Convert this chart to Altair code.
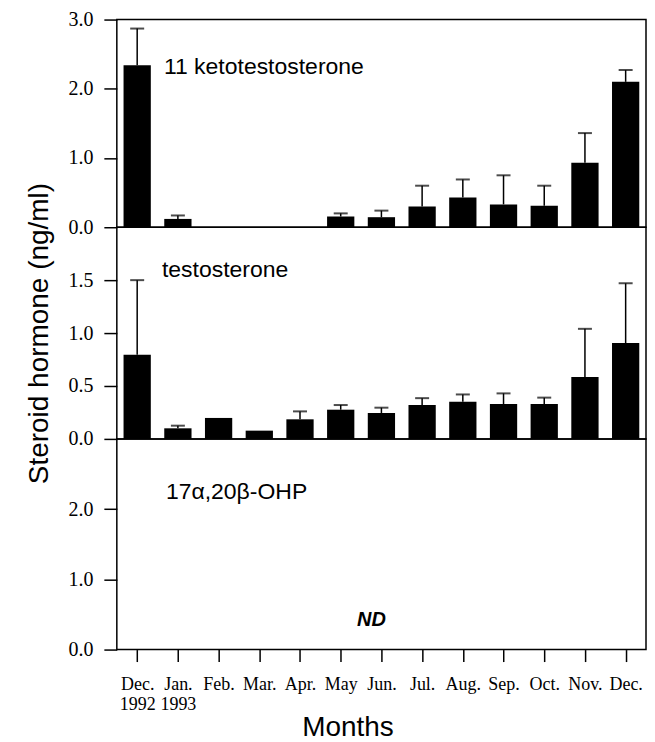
import altair as alt
import pandas as pd

months = ["Dec. 1992", "Jan. 1993", "Feb.", "Mar.", "Apr.", "May", "Jun.",
          "Jul.", "Aug.", "Sep.", "Oct.", "Nov.", "Dec."]

kt_mean = [2.34, 0.12, 0.0, 0.0, 0.0, 0.155, 0.145, 0.30, 0.43, 0.33, 0.31, 0.93, 2.10]
kt_upper = [2.87, 0.17, None, None, None, 0.20, 0.24, 0.60, 0.69, 0.75, 0.60, 1.36, 2.27]

t_mean = [0.795, 0.10, 0.198, 0.078, 0.185, 0.276, 0.245, 0.32, 0.35, 0.33, 0.33, 0.585, 0.905]
t_upper = [1.50, 0.125, None, None, 0.26, 0.32, 0.295, 0.385, 0.42, 0.43, 0.39, 1.04, 1.47]

panel_titles = ["11 ketotestosterone", "testosterone", "17\u03b1,20\u03b2-OHP"]
panel_title_y = [2.22, 1.53, 2.15]
panel_title_month = ["Jan. 1993", "Jan. 1993", "Jan. 1993"]
panel_title_dx = [-14, -16, -12]

y_domains = [[0, 3.0], [0, 2.0], [0, 3.0]]
y_ticks = [[0, 1.0, 2.0, 3.0], [0, 0.5, 1.0, 1.5], [0, 1.0, 2.0]]
heights = [208, 212, 211]

nd_label = "ND"
nd_month = "Jun."
nd_y = 0.34

W = 530
SANS = "Liberation Sans"
SERIF = "Liberation Serif"


def xenc(show_axis):
    scale = alt.Scale(domain=months, paddingInner=0.33, paddingOuter=0.165)
    if show_axis:
        axis = alt.Axis(title="Months", labelAngle=0, domain=False,
                        ticks=True, tickSize=12, tickColor="black", tickWidth=1.5,
                        labelFont=SERIF, labelFontSize=18, labelColor="black",
                        labelPadding=14, labelExpr="split(datum.label, ' ')",
                        labelLineHeight=20,
                        titleFont=SANS, titleFontSize=28, titleFontWeight="normal",
                        titleColor="black", titlePadding=0, titleX=231)
        return alt.X("month:N", scale=scale, axis=axis, sort=months)
    return alt.X("month:N", scale=scale, axis=None, sort=months)


def yaxis(i, title):
    kw = dict(values=y_ticks[i], format=".1f", domain=False, grid=False,
              tickSize=13, tickColor="black", tickWidth=1.5,
              labelFont=SERIF, labelFontSize=20, labelColor="black", labelPadding=11)
    if title:
        kw.update(title="Steroid hormone (ng/ml)", titleFont=SANS, titleFontSize=28,
                  titleFontWeight="normal", titleColor="black", titlePadding=14)
    else:
        kw.update(title=None)
    return alt.Axis(**kw)


def panel(i, mean=None, upper=None):
    ysc = alt.Scale(domain=y_domains[i], nice=False)
    layers = []
    if mean is not None:
        df = pd.DataFrame({"month": months, "mean": mean, "upper": upper})
        base = alt.Chart(df)
        bars = base.mark_bar(color="black").encode(
            x=xenc(i == 2),
            y=alt.Y("mean:Q", scale=ysc, axis=yaxis(i, i == 1)),
        )
        err_df = df.dropna(subset=["upper"])
        stem = alt.Chart(err_df).mark_rule(color="black", strokeWidth=1.5).encode(
            x=xenc(i == 2), y=alt.Y("mean:Q", scale=ysc), y2="upper:Q")
        cap = alt.Chart(err_df).mark_tick(color="black", thickness=2, size=14).encode(
            x=xenc(i == 2), y=alt.Y("upper:Q", scale=ysc))
        layers += [bars, stem, cap]
    lab_df = pd.DataFrame({"month": [panel_title_month[i]], "v": [panel_title_y[i]],
                           "t": [panel_titles[i]]})
    lab = alt.Chart(lab_df).mark_text(align="left", baseline="alphabetic", font=SANS,
                                      fontSize=23, color="black",
                                      dx=panel_title_dx[i]).encode(
        x=xenc(i == 2),
        y=alt.Y("v:Q", scale=ysc, axis=yaxis(i, i == 1)),
        text="t:N")
    layers.append(lab)
    if i == 2:
        nd_df = pd.DataFrame({"month": [nd_month], "v": [nd_y], "t": [nd_label]})
        nd = alt.Chart(nd_df).mark_text(align="center", baseline="alphabetic", font=SANS,
                                        fontSize=20, fontWeight="bold", fontStyle="italic",
                                        color="black", dx=-10).encode(
            x=xenc(True), y=alt.Y("v:Q", scale=ysc), text="t:N")
        layers.append(nd)
    return alt.layer(*layers).properties(
        width=W, height=heights[i],
        view=alt.ViewBackground(stroke="black", strokeWidth=1.5))


p1 = panel(0, kt_mean, kt_upper)
p2 = panel(1, t_mean, t_upper)
p3 = panel(2)

chart = alt.vconcat(p1, p2, p3, spacing=0, bounds="flush").properties(
    padding={"left": 17, "top": 0, "right": 0, "bottom": 0}
).configure_view(stroke="black", strokeWidth=1.5).configure(background="white")

chart.save("out.html", embed_options={"renderer": "svg", "actions": False})
